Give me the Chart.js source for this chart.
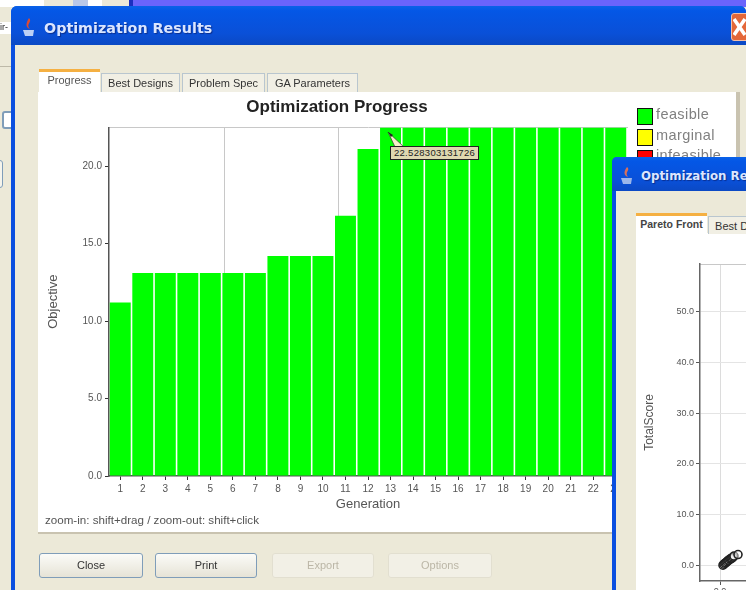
<!DOCTYPE html>
<html>
<head>
<meta charset="utf-8">
<title>Optimization Results</title>
<script src="https://cdn.jsdelivr.net/npm/chart.js@4"></script>
<style>
  html, body { margin: 0; padding: 0; width: 746px; height: 590px; overflow: hidden; background: #ece9d8; }
  #page { position: absolute; left: 0; top: 0; width: 746px; height: 590px; overflow: hidden; filter: blur(0.75px); font-family: "Liberation Sans", Arial, sans-serif; }
  .box { position: absolute; box-sizing: border-box; }
  .win { position: absolute; background: #ece9d8; overflow: hidden; }
  .titlebar { position: absolute; background: linear-gradient(#0a62e8 0%, #0457e6 12%, #0a50d8 70%, #0b49c4 100%); }
  .wintitle { position: absolute; color: #dbe6ff; font: bold 14.3px "DejaVu Sans", sans-serif; white-space: nowrap; text-shadow: 1px 1px 1px #0a2f90; }
  .tab { position: absolute; box-sizing: border-box; font-size: 11px; color: #333; text-align: center; white-space: nowrap; overflow: hidden; background: #f1efe4; border: 1px solid #b9c6cf; border-bottom: none; padding-top: 3px; }
  .tab.on { background: #fff; border: none; border-top: 3px solid #f5b042; color: #555; padding-top: 2px; }
  .btn { position: absolute; box-sizing: border-box; top: 553px; height: 25px; font-size: 11px; line-height: 22px; text-align: center; color: #333; background: linear-gradient(#fbfbf8, #e6e3d6); border: 1.5px solid #7f9db9; border-radius: 3px; }
  .btn.off { color: #bbb6a6; background: #f2f0e6; border: 1px solid #e2dfd0; line-height: 23px; }
  .legsw { position: absolute; box-sizing: border-box; left: 637px; width: 16px; height: 17px; border: 1.5px solid #111; }
  .leglb { position: absolute; left: 656px; font-size: 14.5px; color: #808080; letter-spacing: 0.4px; white-space: nowrap; }
  canvas { position: absolute; display: block; }
</style>
</head>
<body>
<div id="page">
  <!-- desktop behind the windows -->
  <div class="box" style="left:0;top:0;width:131px;height:7px;background:#fff"></div>
  <div class="box" style="left:44px;top:0;width:42px;height:7px;background:#ece9d8"></div>
  <div class="box" style="left:73px;top:0;width:15px;height:6px;background:#b9c8e8"></div>
  <div class="box" style="left:102px;top:0;width:28px;height:7px;background:#ece9d8"></div>
  <div class="box" style="left:129px;top:0;width:4px;height:7px;background:#1a2fc0"></div>
  <div class="box" style="left:133px;top:0;width:613px;height:7px;background:#6a64fb"></div>
  <div class="box" style="left:0;top:22px;width:11px;height:12px;background:#fff;font-size:9px;color:#222;overflow:hidden">ir-</div>
  <div class="box" style="left:0;top:66px;width:11px;height:1px;background:#bdb9a8"></div>
  <div class="box" style="left:2px;top:111px;width:12px;height:18px;background:#fff;border:2px solid #7f9db9;border-radius:3px"></div>
  <div class="box" style="left:-6px;top:160px;width:9px;height:28px;background:#f5f4ec;border:1px solid #7f9db9;border-radius:3px"></div>

  <!-- main window -->
  <div class="win" style="left:11px;top:6px;width:735px;height:584px;background:#0a4fe0;border-radius:6px 6px 0 0"></div>
  <div class="win" style="left:15px;top:45px;width:731px;height:545px"></div>
  <div class="titlebar" style="left:11px;top:6px;width:735px;height:39px;border-radius:6px 6px 0 0"></div>
  <svg class="box" style="left:20px;top:17px" width="18" height="22">
    <path d="M9 1 C13 5 5 7 10 12 C5 10 6 6 9 1Z" fill="#e04a30"/>
    <path d="M3 13 H14 L13 19 H5Z" fill="#bcd0f5"/>
  </svg>
  <div class="wintitle" style="left:44px;top:20px">Optimization Results</div>
  <div class="box" style="left:731px;top:13px;width:20px;height:28px;background:#e4683a;border:1px solid #f3c0a8;border-radius:3px"></div>
  <svg class="box" style="left:733px;top:18px" width="13" height="18"><path d="M1 1 L12 17 M12 1 L1 17" stroke="#fff" stroke-width="3.5"/></svg>

  <div class="box" style="left:38px;top:92px;width:702px;height:442px;background:#fff;border-bottom:2px solid #c9c3b0"></div>
  <div class="box" style="left:736px;top:92px;width:4px;height:65px;background:#c9c3b0"></div>
  <div class="tab on" style="left:39px;top:69px;width:61px;height:24px">Progress</div>
  <div class="tab" style="left:101px;top:73px;width:79px;height:19px">Best Designs</div>
  <div class="tab" style="left:182px;top:73px;width:83px;height:19px">Problem Spec</div>
  <div class="tab" style="left:267px;top:73px;width:91px;height:19px">GA Parameters</div>

  <canvas id="progress" style="left:38px;top:92px"></canvas>
  <div class="box" style="left:45px;top:513px;font-size:11.6px;color:#555;white-space:nowrap">zoom-in: shift+drag / zoom-out: shift+click</div>

  <div class="legsw" style="top:108px;background:#00ff00"></div>
  <div class="leglb" style="top:106px">feasible</div>
  <div class="legsw" style="top:129px;background:#ffff00"></div>
  <div class="leglb" style="top:127px">marginal</div>
  <div class="legsw" style="top:150px;background:#ff0000"></div>
  <div class="leglb" style="top:147px">infeasible</div>

  <!-- hover tip on the 13th bar -->
  <svg class="box" style="left:386px;top:130px" width="22" height="20">
    <path d="M2 2 L18 17 L9 17Z" fill="#f6f0c8" stroke="#333" stroke-width="0.7"/>
    <path d="M2 2 L7 5 L5 7Z" fill="#222"/>
  </svg>
  <div class="box" style="left:390px;top:146px;width:89px;height:14px;background:#dfd8b0;border:1px solid #222;font-size:9.5px;letter-spacing:0.3px;line-height:12px;color:#222;text-align:center;white-space:nowrap;overflow:hidden">22.528303131726</div>

  <div class="btn" style="left:39px;width:104px">Close</div>
  <div class="btn" style="left:155px;width:102px">Print</div>
  <div class="btn off" style="left:272px;width:102px">Export</div>
  <div class="btn off" style="left:388px;width:104px">Options</div>

  <!-- second window on top -->
  <div class="win" style="left:612px;top:157px;width:134px;height:433px;background:#0a4fe0;border-radius:5px 0 0 0"></div>
  <div class="win" style="left:616px;top:191px;width:130px;height:399px"></div>
  <div class="titlebar" style="left:612px;top:157px;width:134px;height:34px;border-radius:5px 0 0 0"></div>
  <svg class="box" style="left:619px;top:166px" width="16" height="20">
    <path d="M8 1 C12 4 5 6 9 11 C4 9 5 5 8 1Z" fill="#d8705a"/>
    <path d="M2 12 H13 L12 18 H4Z" fill="#9cb6ea"/>
  </svg>
  <div class="wintitle" style="left:641px;top:169px;font-size:11.8px">Optimization Results</div>
  <div class="box" style="left:636px;top:233px;width:110px;height:357px;background:#fff"></div>
  <div class="tab on" style="left:636px;top:213px;width:71px;height:21px;font-weight:bold;font-size:10.5px;color:#444">Pareto Front</div>
  <div class="tab" style="left:708px;top:216px;width:79px;height:18px">Best Designs</div>
  <canvas id="pareto" style="left:636px;top:233px"></canvas>
</div>

<script>
const generations = ['1','2','3','4','5','6','7','8','9','10','11','12','13','14','15','16','17','18','19','20','21','22','23'];
const objective = [11.2, 13.1, 13.1, 13.1, 13.1, 13.1, 13.1, 14.2, 14.2, 14.2, 16.8, 21.1, 22.5, 22.5, 22.5, 22.5, 22.5, 22.5, 22.5, 22.5, 22.5, 22.5, 22.5];
const objectiveTicks = [0, 5, 10, 15, 20];
const paretoObjective = [0.3, 0.4, 0.5, 0.6, 0.7, 0.8, 0.9, 1.0, 1.1, 1.2, 1.3, 1.4, 1.8];
const paretoScore = [0.1, 0.3, 0.5, 0.6, 0.8, 1.0, 1.1, 1.3, 1.4, 1.5, 1.7, 1.9, 2.2];
const paretoXTicks = [0];
const paretoYTicks = [0, 10, 20, 30, 40, 50];

const AXIS_FONT = { family: 'Liberation Sans', size: 10 };
const TITLE_FONT = { family: 'Liberation Sans', size: 13 };
const TEXT = '#555';

function fixedTicks(values) {
  return scale => { scale.ticks = values.map(v => ({ value: v })); };
}

// keep tick labels from pulling the plot edge in
function noSidePadding(scale) {
  scale.paddingLeft = 0;
  scale.paddingRight = 0;
}

function makeCanvas(id, w, h) {
  const canvas = document.getElementById(id);
  canvas.width = w;
  canvas.height = h;
  canvas.style.width = w + 'px';
  canvas.style.height = h + 'px';
  return canvas.getContext('2d');
}

new Chart(makeCanvas('progress', 598, 441), {
  type: 'bar',
  data: {
    labels: generations,
    datasets: [{
      label: 'feasible',
      data: objective,
      backgroundColor: '#00ff00',
      barPercentage: 0.93,
      categoryPercentage: 1,
    }]
  },
  options: {
    responsive: false,
    animation: false,
    layout: { padding: { left: 9, right: 9 } },
    plugins: {
      legend: { display: false },
      tooltip: { enabled: false },
      title: {
        display: true,
        text: 'Optimization Progress',
        color: '#222',
        font: { family: 'Liberation Sans', size: 17, weight: 'bold' },
        padding: { top: 5, bottom: 10 },
      },
    },
    scales: {
      x: {
        grid: { drawOnChartArea: false, offset: false, tickColor: '#333', tickLength: 4 },
        border: { color: '#555', width: 1.5 },
        ticks: { color: TEXT, font: AXIS_FONT, maxRotation: 0, autoSkip: false, padding: 3 },
        title: { display: true, text: 'Generation', color: TEXT, font: TITLE_FONT, padding: { top: 1, bottom: 21 } },
        afterFit: s => { s.height = 57; noSidePadding(s); },
      },
      gen: {
        type: 'linear',
        position: 'top',
        offset: false,
        min: -0.012,
        max: 4.532,
        afterBuildTicks: fixedTicks([1, 2, 3, 4]),
        grid: { color: '#c8c8c8', drawTicks: false, offset: false },
        border: { color: '#c8c8c8' },
        ticks: { display: false },
        afterFit: s => { s.height = 0; },
      },
      y: {
        min: 0,
        max: 22.5,
        afterBuildTicks: fixedTicks(objectiveTicks),
        grid: { drawOnChartArea: false, tickColor: '#333', tickLength: 4 },
        border: { color: '#555', width: 1.5 },
        ticks: { color: TEXT, font: AXIS_FONT, padding: 3, callback: v => v.toFixed(1) },
        title: { display: true, text: 'Objective', color: TEXT, font: TITLE_FONT, padding: { top: -1, bottom: 0 } },
        afterFit: s => { s.width = 62; },
      },
    },
  },
});

new Chart(makeCanvas('pareto', 110, 367), {
  type: 'scatter',
  data: {
    datasets: [{
      label: 'TotalScore',
      data: paretoObjective.map((x, i) => ({ x: x, y: paretoScore[i] })),
      backgroundColor: 'rgba(255,255,255,0.45)',
      borderColor: '#222',
      borderWidth: 1.6,
      pointRadius: 4,
    }]
  },
  options: {
    responsive: false,
    animation: false,
    layout: { autoPadding: false, padding: { top: 31 } },
    plugins: { legend: { display: false }, tooltip: { enabled: false } },
    scales: {
      x: {
        min: -2,
        max: 2.6,
        afterBuildTicks: fixedTicks(paretoXTicks),
        grid: { color: '#dcdcdc', tickColor: '#555', tickLength: 4 },
        border: { color: '#666', width: 1.5 },
        ticks: { color: TEXT, font: { family: 'Liberation Sans', size: 9 }, maxRotation: 0, padding: 1, callback: v => v.toFixed(1) },
        afterFit: s => { s.height = 19; noSidePadding(s); },
      },
      top: {
        type: 'linear',
        position: 'top',
        min: 0,
        max: 1,
        afterBuildTicks: fixedTicks([]),
        grid: { display: false, drawTicks: false },
        border: { color: '#c8c8c8' },
        ticks: { display: false },
        afterFit: s => { s.height = 0; noSidePadding(s); },
      },
      y: {
        min: -3,
        max: 59.3,
        afterBuildTicks: fixedTicks(paretoYTicks),
        grid: { color: '#e4e4e4', tickColor: '#555', tickLength: 4 },
        border: { color: '#666', width: 1.5 },
        ticks: { color: TEXT, font: { family: 'Liberation Sans', size: 9 }, padding: 2, callback: v => v.toFixed(1) },
        title: { display: true, text: 'TotalScore', color: TEXT, font: { family: 'Liberation Sans', size: 12 }, padding: { top: 6, bottom: 0 } },
        afterFit: s => { s.width = 64; },
      },
    },
  },
});
</script>
</body>
</html>
